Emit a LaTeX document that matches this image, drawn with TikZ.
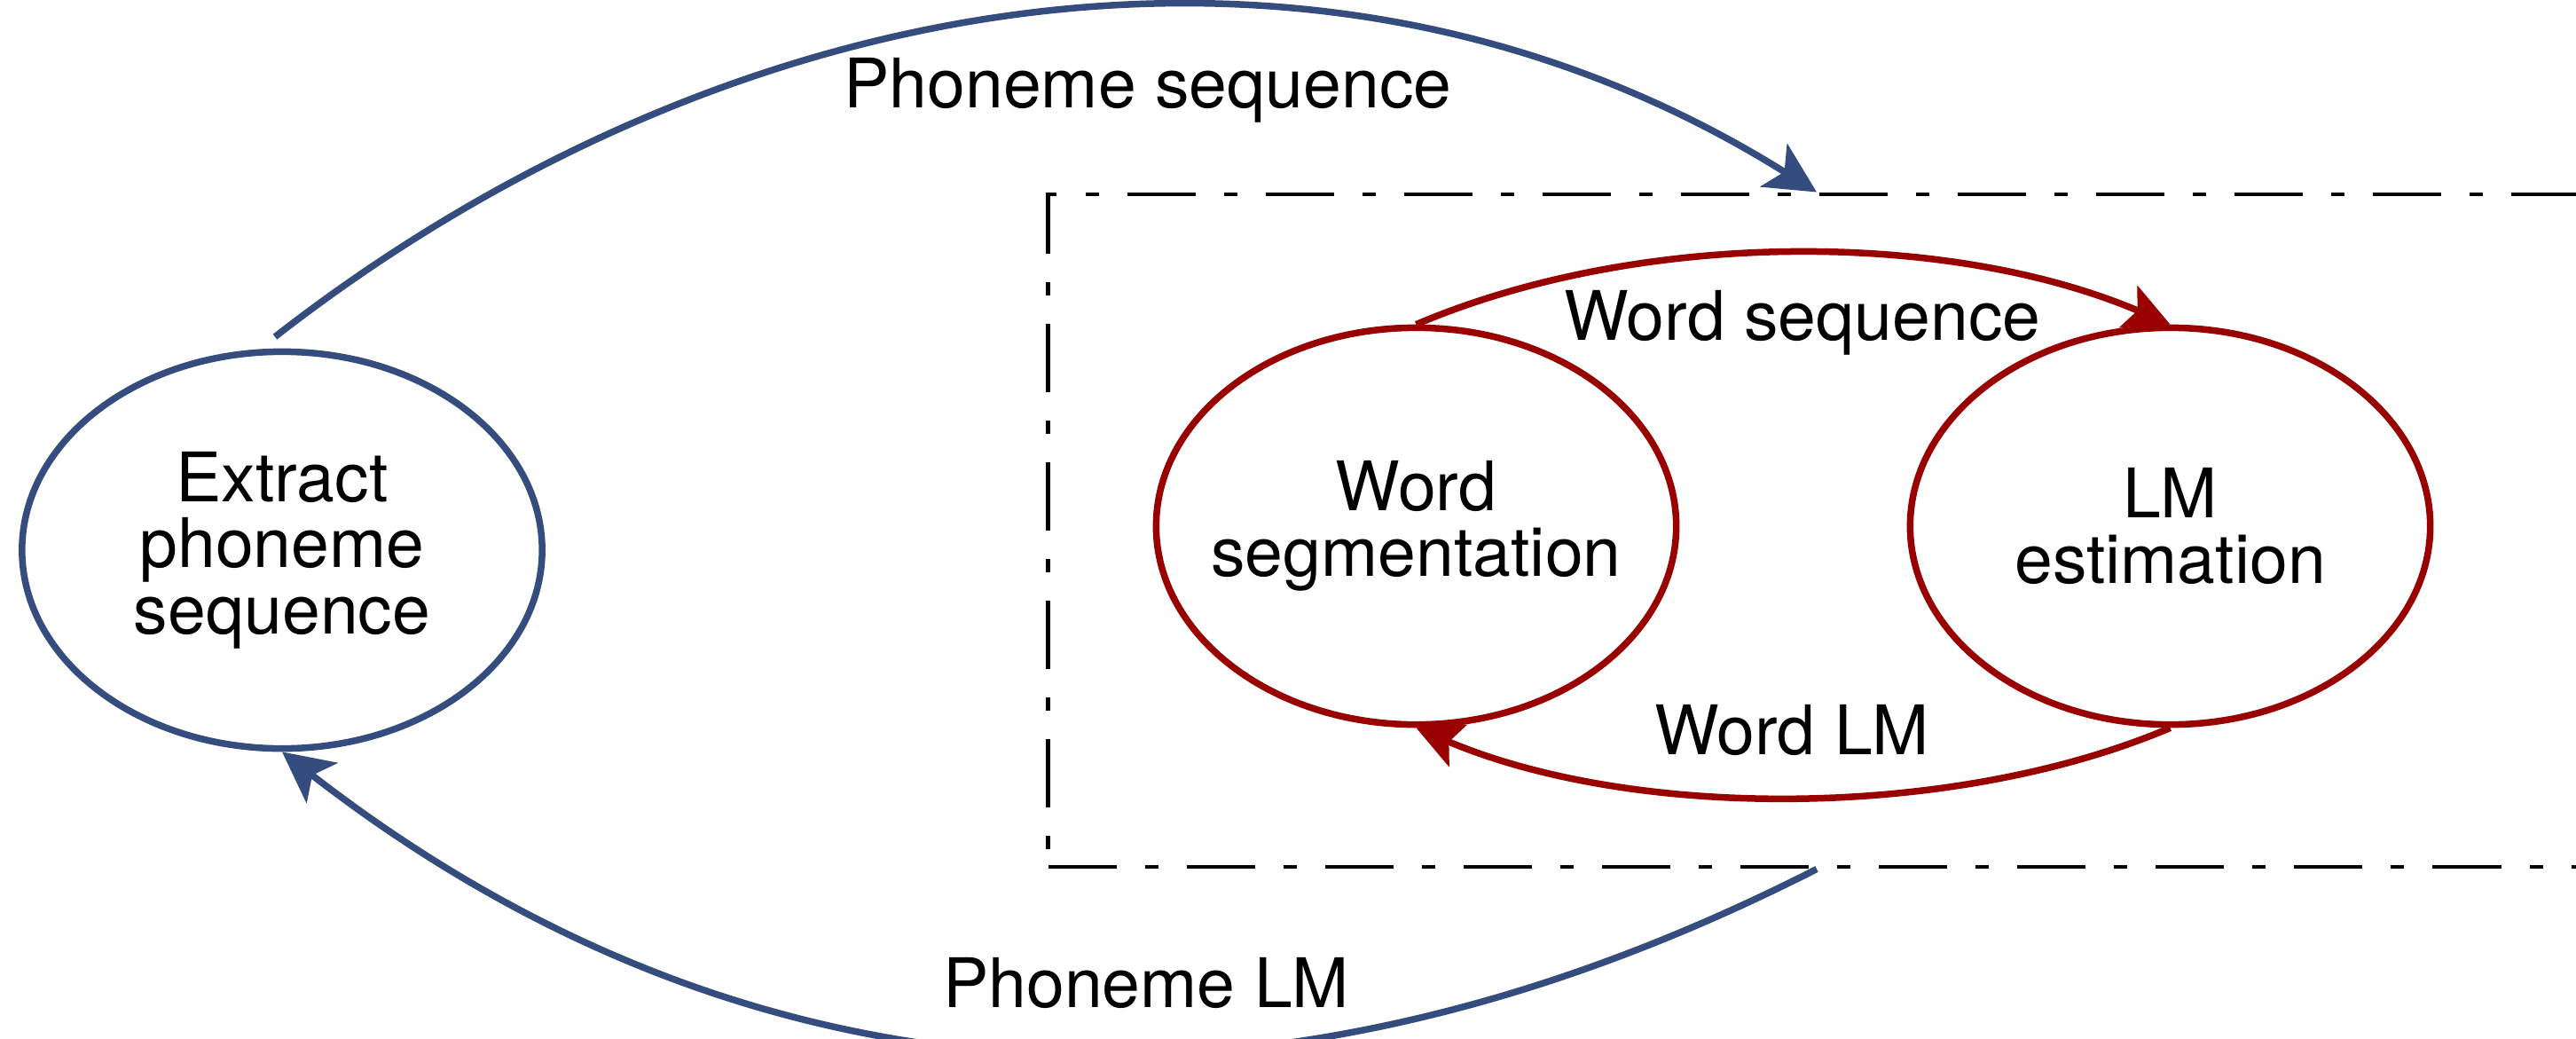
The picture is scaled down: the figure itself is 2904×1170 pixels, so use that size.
\documentclass[tikz,border=0pt]{standalone}
\usepackage{fontspec}
\setmainfont{TeX Gyre Heros}
\usetikzlibrary{arrows.meta,shapes.geometric}
\definecolor{loopblue}{RGB}{52,77,126}
\definecolor{loopred}{RGB}{153,0,0}
\begin{document}
\begin{tikzpicture}[x=0.01cm,y=-0.01cm,
  txt/.style={font=\fontsize{21.9pt}{21.2pt}\selectfont, text=black, inner sep=0pt},
  stage/.style={ellipse, draw, line width=0.075cm, minimum width=5.86cm,
    minimum height=4.47cm, align=center, txt, inner xsep=-0.5cm, inner ysep=0pt},
  outerflow/.style={draw=loopblue, line width=0.075cm,
    -{Stealth[length=0.57cm,width=0.57cm,inset=0.14cm]}},
  innerflow/.style={draw=loopred, line width=0.075cm,
    -{Stealth[length=0.51cm,width=0.51cm,inset=0.11cm]}},
  frame/.style={draw=black, line width=0.045cm,
    dash pattern=on 0.77cm off 0.32cm on 0.15cm off 0.32cm,
    minimum width=17.32cm, minimum height=7.58cm, inner sep=0pt},
  lbl/.style={txt, anchor=base}]
\useasboundingbox (0,0) rectangle (2904,1170);
\clip (0,0) rectangle (2904,1170);

% word-level loop inside the dash-dotted frame
\node[frame] (inner) at (2048,598) {};

% stages
\node[stage, draw=loopblue] (extract) at (318,620) {Extract\\phoneme\\sequence};
\node[stage, draw=loopred] (seg) at (1596.5,593) {Word\\segmentation};
\node[stage, draw=loopred] (lm) at (2446.5,593) {LM\\estimation};

% outer loop
\draw[outerflow] ([xshift=-0.08cm,yshift=0.13cm]extract.north)
  .. controls +(520,-405) and +(-551,-345) .. (inner.north);
\draw[outerflow] (inner.south)
  .. controls +(-605,308) and +(536,416) .. (extract.south);

% inner loop
\draw[innerflow] (seg.north)
  .. controls +(251,-107) and +(-251,-107) .. (lm.north);
\draw[innerflow] (lm.south)
  .. controls +(-245,104) and +(245,104) .. (seg.south);

% flow labels
\node[lbl] (l1) at (1294,122) {Phoneme sequence};
\node[lbl] (l2) at (2032,383) {Word sequence};
\node[lbl] (l3) at (2020,850) {Word LM};
\node[lbl] (l4) at (1292,1135) {Phoneme LM};
\end{tikzpicture}
\end{document}
